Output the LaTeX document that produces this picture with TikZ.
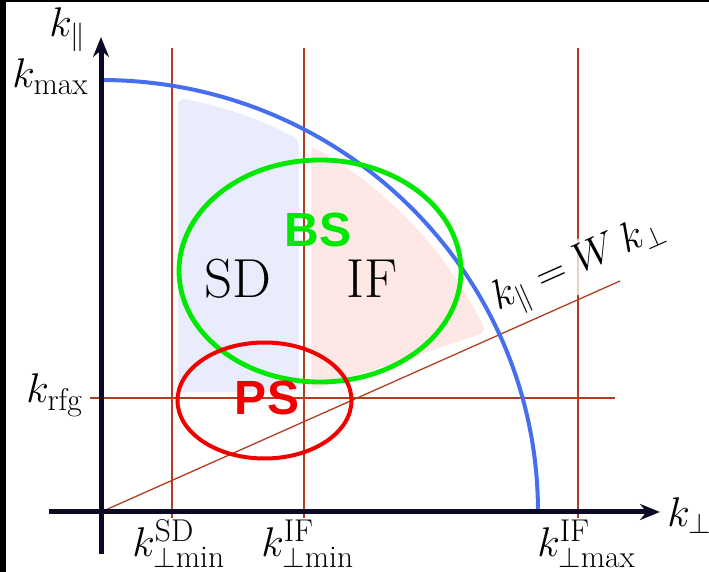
\documentclass[tikz,border=0pt]{standalone}
\usepackage{fontspec}
\newfontfamily\labelsans{Liberation Sans}
\usetikzlibrary{arrows.meta}
\definecolor{axiscol}{RGB}{10,10,38}
\definecolor{lineRed}{RGB}{178,62,32}
\definecolor{arcBlue}{RGB}{72,110,240}
\definecolor{bsGreen}{RGB}{0,232,0}
\definecolor{psRed}{RGB}{240,0,0}
\definecolor{sdFill}{RGB}{232,236,251}
\definecolor{ifFill}{RGB}{253,232,230}
\begin{document}
\begin{tikzpicture}[x=0.5pt,y=-0.5pt,
  thinline/.style={draw=lineRed, line width=0.65pt},
  axisline/.style={draw=axiscol, line width=2.5pt, -{Stealth[length=10pt,width=8pt]}},
  mathlabel/.style={font=\fontsize{22.5}{27}\selectfont, inner sep=0pt},
  bigtext/.style={font=\fontsize{27.5}{32}\selectfont, inner sep=0pt},
  boldsans/.style={font=\labelsans\bfseries\fontsize{24}{28}\selectfont, inner sep=0pt},
  region/.style={draw=white, line width=1pt, rounded corners=4pt}]
\useasboundingbox (0,0) rectangle (709,572);
\fill[white] (0,0) rectangle (709,572);
\fill[black] (0,0) rectangle (6,572);
\fill[black] (0,0) rectangle (709,2);

% key points
\coordinate (O) at (101,512);
\coordinate (ybot) at (101,554);
\coordinate (ytop) at (101,37);
\coordinate (xleft) at (49,512);
\coordinate (xright) at (660,512);
\coordinate (sdtop) at (172,48);
\coordinate (sdbot) at (172,518);
\coordinate (iftop) at (304,48);
\coordinate (ifbot) at (304,518);
\coordinate (mxtop) at (578,48);
\coordinate (mxbot) at (578,518);
\coordinate (rfgl) at (90,398);
\coordinate (rfgr) at (615,398);
\coordinate (diagend) at (620,281);

% shaded regions
\path[region, fill=sdFill] (177,393) -- (177,96.7)
  arc[start angle=-79.75, end angle=-62.22, x radius=427, y radius=422]
  -- (300,393) -- cycle;
\path[region, fill=ifFill] (310,392) -- (310,144)
  arc[start angle=-60.69, end angle=-25.1, x radius=427, y radius=422]
  -- cycle;

% thin guide lines
\draw[thinline] (sdtop) -- (sdbot);
\draw[thinline] (iftop) -- (ifbot);
\draw[thinline] (mxtop) -- (mxbot);
\draw[thinline] (rfgl) -- (rfgr);
\draw[thinline] (O) -- (diagend);

% k_max arc
\draw[arcBlue, line width=2pt] (538,512)
  arc[start angle=0, end angle=-90, x radius=437, y radius=432];

% ellipses
\draw[bsGreen, line width=2.4pt] (320,271) ellipse[x radius=141, y radius=111];
\draw[psRed, line width=2pt] (264.5,400.5) ellipse[x radius=87, y radius=58];

% axes
\draw[axisline] (ybot) -- (ytop);
\draw[axisline] (xleft) -- (xright);

% labels
\node[mathlabel, anchor=base west] (kpar) at (49,37) {$k_{\parallel}$};
\node[mathlabel, anchor=base west] (kmax) at (12,88) {$k_{\mathrm{max}}$};
\node[mathlabel, anchor=base west] (krfg) at (26,403) {$k_{\mathrm{rfg}}$};
\node[mathlabel, anchor=base west] (kperp) at (667,527) {$k_{\perp}$};
\node[mathlabel, anchor=base west] (kSD) at (132,557) {$k^{\mathrm{SD}}_{\perp\mathrm{min}}$};
\node[mathlabel, anchor=base west] (kIFmin) at (261,557) {$k^{\mathrm{IF}}_{\perp\mathrm{min}}$};
\node[mathlabel, anchor=base west] (kIFmax) at (537,557) {$k^{\mathrm{IF}}_{\perp\mathrm{max}}$};

\node[bigtext] (sd) at (237.5,279) {SD};
\node[bigtext] (if) at (372.5,279) {IF};
\node[boldsans, text=bsGreen] (bs) at (318,230) {BS};
\node[boldsans, text=psRed] (ps) at (267,397.5) {PS};

\node[mathlabel, rotate=24, fill=white, fill opacity=0.75, text opacity=1, inner sep=2pt] (eq) at (580,266) {$k_{\parallel} = W\,k_{\perp}$};
\end{tikzpicture}
\end{document}
